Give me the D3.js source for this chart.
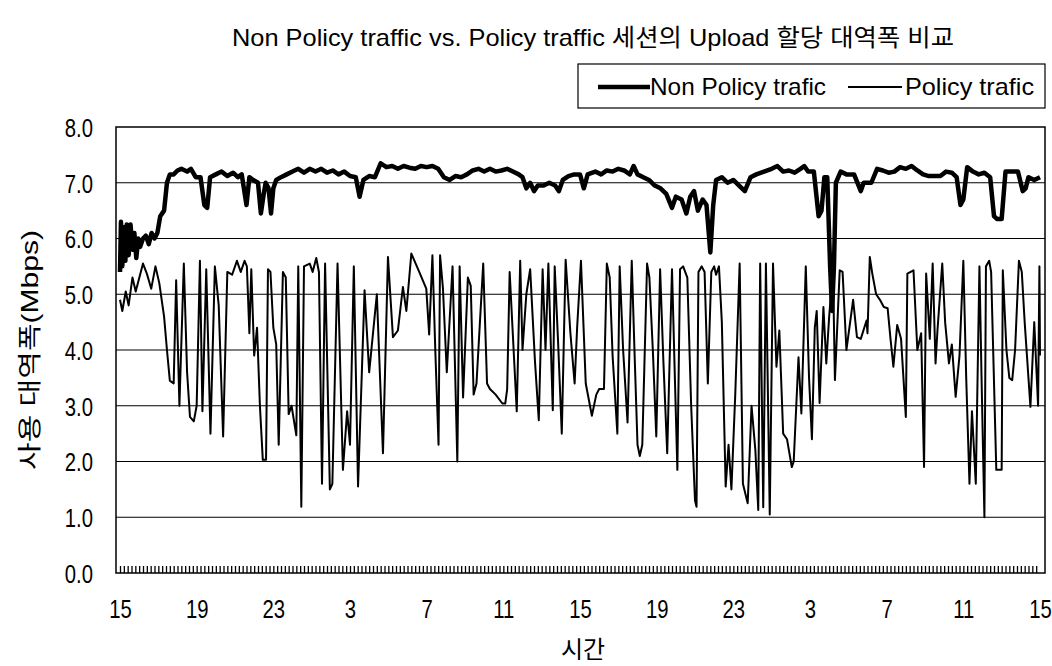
<!DOCTYPE html>
<html>
<head>
<meta charset="utf-8">
<script src="https://cdn.jsdelivr.net/npm/d3@7"></script>
<style>
  body { margin: 0; background: #fff; }
  text { fill: #000; }
</style>
</head>
<body>
<div id="chart"></div>
<script>
// ---- data (hours since 15:00, Mbps) ----
const hourTicks = [0, 4, 8, 12, 16, 20, 24, 28, 32, 36, 40, 44, 48];
const hourLabels = ['15', '19', '23', '3', '7', '11', '15', '19', '23', '3', '7', '11', '15'];
const yTicks = [0, 1, 2, 3, 4, 5, 6, 7, 8];
const seriesNames = ['Non Policy trafic', 'Policy trafic'];

const nonPolicy = [
  [0,5.4],[0.05,6.3],[0.12,5.5],[0.2,6.2],[0.28,5.6],[0.35,6.25],[0.45,5.7],[0.55,6.25],[0.65,5.8],[0.75,6.1],
  [0.85,5.65],[0.95,6.0],[1.05,5.85],[1.2,6.0],[1.35,6.05],[1.5,5.9],[1.65,6.1],[1.8,6.0],[1.95,6.1],[2.1,6.4],
  [2.3,6.5],[2.45,7.0],[2.6,7.15],[2.8,7.15],[3.0,7.22],[3.2,7.25],[3.5,7.2],[3.7,7.25],[3.95,7.1],[4.2,7.1],
  [4.4,6.6],[4.55,6.55],[4.7,7.1],[5.0,7.15],[5.3,7.2],[5.6,7.12],[5.9,7.18],[6.15,7.1],[6.35,7.15],[6.6,6.6],
  [6.75,7.1],[6.95,7.05],[7.2,7.0],[7.35,6.45],[7.5,6.8],[7.6,7.0],[7.75,6.9],[7.88,6.45],[8.0,6.9],[8.15,7.05],
  [8.4,7.1],[8.7,7.15],[9.0,7.2],[9.3,7.25],[9.6,7.18],[9.9,7.25],[10.2,7.2],[10.5,7.25],[10.8,7.18],[11.1,7.22],
  [11.4,7.15],[11.7,7.2],[12.0,7.12],[12.3,7.1],[12.5,6.75],[12.7,7.05],[13.0,7.12],[13.3,7.1],[13.6,7.35],[13.9,7.28],
  [14.2,7.3],[14.5,7.25],[14.8,7.3],[15.1,7.27],[15.4,7.25],[15.7,7.3],[16.0,7.28],[16.3,7.3],[16.6,7.25],[16.9,7.1],
  [17.2,7.05],[17.5,7.12],[17.8,7.1],[18.1,7.15],[18.4,7.22],[18.7,7.25],[19.0,7.2],[19.3,7.25],[19.6,7.2],[19.9,7.22],
  [20.2,7.25],[20.5,7.2],[20.8,7.15],[21.0,7.1],[21.2,6.9],[21.4,7.0],[21.6,6.85],[21.8,6.95],[22.1,6.95],[22.4,7.0],
  [22.7,6.95],[22.9,6.85],[23.1,7.05],[23.4,7.12],[23.7,7.15],[24.0,7.15],[24.2,6.9],[24.4,7.15],[24.8,7.2],[25.1,7.15],
  [25.4,7.22],[25.7,7.2],[26.0,7.25],[26.3,7.22],[26.6,7.15],[26.8,7.3],[27.0,7.15],[27.3,7.1],[27.6,7.05],[27.9,6.95],
  [28.2,6.9],[28.5,6.8],[28.8,6.55],[29.0,6.75],[29.3,6.7],[29.55,6.45],[29.75,6.75],[29.95,6.85],[30.15,6.5],[30.4,6.7],
  [30.6,6.6],[30.8,5.75],[30.95,6.6],[31.1,7.05],[31.4,7.1],[31.7,7.0],[32.0,7.05],[32.3,6.95],[32.6,6.85],[32.9,7.1],
  [33.2,7.15],[33.6,7.2],[34.0,7.25],[34.3,7.3],[34.6,7.2],[34.9,7.22],[35.2,7.18],[35.5,7.25],[35.7,7.3],[35.9,7.2],
  [36.2,7.2],[36.45,6.4],[36.6,6.5],[36.75,7.1],[36.9,7.1],[37.05,5.5],[37.15,4.7],[37.25,5.5],[37.35,7.0],[37.6,7.2],
  [37.9,7.15],[38.3,7.15],[38.65,6.85],[38.8,7.0],[39.2,7.0],[39.5,7.25],[39.8,7.22],[40.1,7.18],[40.4,7.2],[40.7,7.28],
  [41.0,7.25],[41.3,7.3],[41.6,7.22],[41.9,7.15],[42.2,7.12],[42.5,7.12],[42.8,7.12],[43.1,7.2],[43.4,7.18],[43.65,7.1],
  [43.85,6.6],[44.0,6.7],[44.2,7.28],[44.5,7.2],[44.8,7.15],[45.1,7.18],[45.4,7.1],[45.6,6.4],[45.75,6.35],[46.0,6.35],
  [46.2,7.2],[46.5,7.2],[46.85,7.2],[47.1,6.85],[47.25,6.9],[47.4,7.1],[47.7,7.05],[48.0,7.1]
];

const policy = [
  [0,4.9],[0.12,4.7],[0.3,5.05],[0.45,4.8],[0.65,5.3],[0.82,5.05],[1.2,5.55],[1.4,5.37],[1.63,5.1],[1.85,5.5],
  [2.05,5.2],[2.3,4.6],[2.45,4.0],[2.6,3.45],[2.8,3.4],[2.93,5.25],[3.1,3.0],[3.33,5.55],[3.5,3.6],[3.65,2.8],
  [3.85,2.72],[4.0,3.0],[4.17,5.6],[4.3,2.9],[4.5,5.45],[4.72,2.5],[4.95,5.5],[5.15,4.8],[5.38,2.45],[5.6,5.4],
  [5.85,5.35],[6.1,5.6],[6.3,5.4],[6.5,5.6],[6.62,5.5],[6.75,4.3],[6.85,5.45],[7.0,3.9],[7.15,4.4],[7.3,3.0],
  [7.45,2.03],[7.62,2.03],[7.72,5.45],[7.85,5.4],[8.0,4.4],[8.15,4.1],[8.28,2.3],[8.5,5.4],[8.65,5.3],[8.8,2.85],
  [8.95,3.0],[9.2,2.47],[9.3,5.5],[9.46,1.19],[9.6,5.5],[9.9,5.55],[10.05,5.4],[10.24,5.65],[10.38,5.4],[10.54,1.6],
  [10.7,5.55],[10.95,1.5],[11.08,1.6],[11.35,5.55],[11.63,1.85],[11.85,2.9],[12.0,2.3],[12.2,5.5],[12.42,1.55],[12.76,5.07],
  [13.0,3.6],[13.4,5.0],[13.72,2.15],[13.98,5.67],[14.24,4.23],[14.5,4.35],[14.76,5.13],[14.94,4.7],[15.2,5.73],[15.55,5.45],
  [15.98,5.1],[16.13,4.28],[16.3,5.7],[16.45,4.0],[16.62,2.3],[16.7,5.7],[16.85,5.1],[17.05,3.6],[17.35,5.5],[17.6,2.0],
  [17.72,5.5],[17.9,3.15],[18.15,5.3],[18.3,5.15],[18.45,3.2],[18.6,3.4],[18.95,5.55],[19.15,3.4],[19.3,3.3],[19.6,3.2],
  [19.95,3.04],[20.1,3.04],[20.2,3.3],[20.33,5.4],[20.7,2.9],[20.88,5.6],[21.0,4.0],[21.2,5.0],[21.4,5.45],[21.65,3.8],
  [21.85,2.74],[22.05,5.45],[22.2,4.0],[22.35,5.55],[22.58,2.92],[22.68,5.5],[22.85,4.2],[23.05,2.5],[23.25,5.62],[23.5,4.3],
  [23.72,3.4],[23.85,4.4],[24.05,5.6],[24.3,3.4],[24.62,2.82],[24.85,3.2],[25.0,3.3],[25.25,3.3],[25.4,5.55],[25.55,5.3],
  [25.7,3.9],[25.95,2.5],[26.07,5.5],[26.25,4.0],[26.48,2.7],[26.7,5.6],[26.85,3.9],[27.0,2.3],[27.12,2.1],[27.25,2.3],
  [27.5,5.55],[27.62,5.3],[27.8,4.0],[27.98,2.45],[28.18,5.45],[28.35,3.8],[28.55,2.15],[28.8,5.45],[28.95,3.5],[29.08,1.85],
  [29.22,5.45],[29.38,5.5],[29.6,5.3],[29.8,3.0],[30.0,1.3],[30.08,1.19],[30.18,5.4],[30.35,5.5],[30.5,5.4],[30.67,3.4],
  [30.85,5.4],[31.0,5.5],[31.1,5.35],[31.25,5.5],[31.4,4.5],[31.6,1.55],[31.75,2.3],[31.9,1.5],[32.1,3.2],[32.33,5.55],
  [32.5,1.6],[32.75,1.25],[32.95,3.0],[33.15,2.2],[33.3,1.13],[33.4,5.55],[33.56,1.18],[33.7,5.55],[33.9,1.05],[34.07,5.55],
  [34.25,3.7],[34.4,4.35],[34.6,2.5],[34.8,2.4],[35.05,1.9],[35.15,2.0],[35.4,3.87],[35.55,2.86],[35.78,5.5],[35.95,3.5],
  [36.1,2.4],[36.25,4.4],[36.35,4.7],[36.5,3.05],[36.7,4.77],[36.85,3.76],[37.0,4.6],[37.2,5.43],[37.3,3.46],[37.55,5.43],
  [37.7,5.4],[37.9,4.0],[38.25,4.9],[38.45,4.23],[38.65,4.2],[38.95,4.53],[39.0,4.3],[39.12,5.67],[39.25,5.37],[39.45,5.0],
  [39.65,4.9],[39.85,4.77],[40.05,4.75],[40.2,4.2],[40.35,3.7],[40.55,4.45],[40.75,4.2],[41.0,2.8],[41.08,5.37],[41.4,5.43],
  [41.6,4.0],[41.8,4.3],[41.95,1.9],[42.06,5.37],[42.25,4.2],[42.4,5.55],[42.55,3.76],[42.65,4.35],[42.9,5.55],[43.05,4.5],
  [43.25,3.76],[43.4,4.1],[43.6,3.16],[43.8,3.9],[44.0,5.6],[44.15,3.5],[44.32,1.6],[44.45,2.9],[44.65,1.6],[44.84,5.5],
  [44.95,3.5],[45.1,1.0],[45.18,5.5],[45.35,5.6],[45.45,5.4],[45.72,1.85],[46.0,1.85],[46.06,5.43],[46.25,4.0],[46.4,3.5],
  [46.55,3.46],[46.7,4.0],[46.9,5.6],[47.05,5.4],[47.2,4.5],[47.5,2.98],[47.7,4.5],[47.9,3.0],[47.97,5.5],[48.0,3.9]
];

const LATIN = '"Liberation Sans", Arial, sans-serif';
const HANGUL = '"Liberation Sans", "Noto Sans CJK KR", sans-serif';
const NARROW = 0.78; // the original face is a narrow grotesque

function drawChart() {
  const W = 1052, H = 666;
  const margin = { top: 127, right: 7, bottom: 93, left: 116 };
  const width = W - margin.left - margin.right;   // 929
  const height = H - margin.top - margin.bottom;  // 446

  const svg = d3.select('#chart').append('svg')
    .attr('width', W).attr('height', H)
    .style('font-family', LATIN);

  const g = svg.append('g').attr('transform', `translate(${margin.left},${margin.top})`);

  const x = d3.scaleLinear().domain([0, 48]).range([4, width - 5]);
  const y = d3.scaleLinear().domain([0, 8]).range([height, 0]);

  // Grid
  g.append('g').selectAll('line').data(yTicks.filter(d => d > 0 && d < 8)).enter().append('line')
    .attr('x1', 0).attr('x2', width)
    .attr('y1', d => y(d)).attr('y2', d => y(d))
    .attr('stroke', '#000').attr('stroke-width', 1.2);

  // Frame
  g.append('rect').attr('x', 0).attr('y', 0).attr('width', width).attr('height', height)
    .attr('fill', 'none').attr('stroke', '#000').attr('stroke-width', 1.5);

  // dense category ticks along the bottom
  g.append('g').attr('transform', `translate(0,${height})`)
    .call(d3.axisBottom(x).tickValues(d3.range(0, 240).map(i => i * 0.2)).tickSize(-7).tickFormat(''))
    .call(s => s.select('.domain').remove())
    .selectAll('line').attr('stroke', '#000').attr('stroke-width', 1.3);

  // Lines
  const line = d3.line().x(d => x(d[0])).y(d => y(d[1]));
  g.append('path').datum(policy).attr('fill', 'none').attr('stroke', '#000')
    .attr('stroke-width', 2).attr('stroke-linejoin', 'round').attr('d', line);
  g.append('path').datum(nonPolicy).attr('fill', 'none').attr('stroke', '#000')
    .attr('stroke-width', 4.5).attr('stroke-linejoin', 'round').attr('d', line);

  // Axes labels
  const xAxis = g.append('g').attr('transform', `translate(0,${height})`)
    .call(d3.axisBottom(x).tickValues(hourTicks).tickSize(0).tickPadding(27)
      .tickFormat((d, i) => hourLabels[i]));
  xAxis.select('.domain').remove();
  xAxis.selectAll('text').style('font-size', '26px').attr('fill', '#000')
    .attr('transform', `scale(${NARROW},1)`);

  const yAxis = g.append('g')
    .call(d3.axisLeft(y).tickValues(yTicks).tickSize(0).tickFormat(d3.format('.1f')));
  yAxis.select('.domain').remove();
  yAxis.selectAll('text').style('font-size', '26px').attr('fill', '#000')
    .attr('x', -23 / NARROW).attr('dy', '0.36em')
    .attr('transform', `scale(${NARROW},1)`);

  // Title
  svg.append('text').attr('x', 593).attr('y', 46).attr('text-anchor', 'middle')
    .attr('textLength', 722).attr('lengthAdjust', 'spacingAndGlyphs')
    .style('font-size', '24px').style('font-family', HANGUL)
    .text('Non Policy traffic vs. Policy traffic 세션의 Upload 할당 대역폭 비교');

  // Axis titles
  svg.append('text').attr('x', 583).attr('y', 658).attr('text-anchor', 'middle')
    .style('font-size', '24px').style('font-family', HANGUL).text('시간');
  svg.append('text').attr('transform', 'translate(38,350) rotate(-90)').attr('text-anchor', 'middle')
    .attr('textLength', 240).attr('lengthAdjust', 'spacingAndGlyphs')
    .style('font-size', '24px').style('font-family', HANGUL).text('사용 대역폭(Mbps)');

  // Legend
  const lg = svg.append('g').attr('transform', 'translate(578,64)');
  lg.append('rect').attr('width', 467).attr('height', 44)
    .attr('fill', '#fff').attr('stroke', '#000').attr('stroke-width', 1.2);
  const items = [
    { name: seriesNames[0], w: 4.5, x0: 20, x1: 72, tx: 72, tl: 176 },
    { name: seriesNames[1], w: 1.8, x0: 270, x1: 324, tx: 327, tl: 129 }
  ];
  items.forEach(it => {
    lg.append('line').attr('x1', it.x0).attr('x2', it.x1).attr('y1', 23).attr('y2', 23)
      .attr('stroke', '#000').attr('stroke-width', it.w);
    lg.append('text').attr('x', it.tx).attr('y', 31)
      .attr('textLength', it.tl).attr('lengthAdjust', 'spacingAndGlyphs')
      .style('font-size', '24px').text(it.name);
  });
}

drawChart();
</script>
</body>
</html>
